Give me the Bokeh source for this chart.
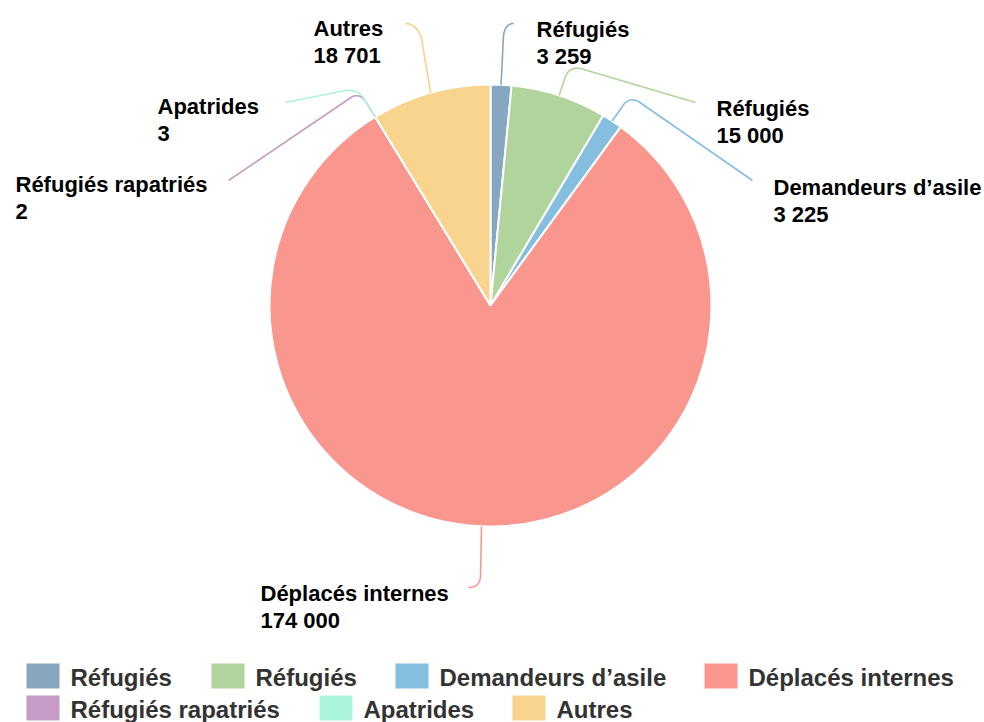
import numpy as np
from bokeh.plotting import figure
from bokeh.models import Range1d, ColumnDataSource
from bokeh.core.properties import value
from bokeh.embed import file_html
from bokeh.resources import INLINE

# ---------------- data ----------------
categories = ["Réfugiés", "Réfugiés", "Demandeurs d’asile", "Déplacés internes",
              "Réfugiés rapatriés", "Apatrides", "Autres"]
values = [3259, 15000, 3225, 174000, 2, 3, 18701]
colors = ["#86a7bf", "#b0d49b", "#86bee0", "#f9978f", "#c69bc5", "#adf5da", "#f8d48e"]

# ---------------- layout (screen px) ----------------
W, H = 984, 722
CX, CY, R = 490, 305, 221
TXT_OFF = 8  # baseline correction of the svg text

# label anchors: (left x, baseline of first line)
label_pos = [(536, 37), (716, 116), (773, 195), (260, 601), (15, 192), (157, 114), (313, 36)]
# connector shapes: (p1, ctrl, p2, end) after leaving the slice edge
connectors = [
    ((503, 35), (505, 23), (513, 23), (513, 23)),
    ((565, 76), (569, 66), (580, 68), (695, 102)),
    ((624, 103), (630, 97), (638, 101), (752, 180)),
    ((480, 576), (479, 587), (468, 587), (468, 587)),
    ((365, 101), (360, 93), (352, 96), (228, 180)),
    ((362, 96), (356, 89), (345, 90), (285, 102)),
    ((421, 38), (416, 23), (405, 23), (405, 23)),
]
legend_rows = [[0, 1, 2, 3], [4, 5, 6]]
legend_x = [[26, 211, 395, 704], [26, 319, 512]]
legend_top = [663, 695]
SW_W, SW_H = 33, 25

LABEL_FONT = value("Liberation Sans")


def Y(sy):
    return H - sy


p = figure(width=W, height=H, x_range=Range1d(0, W), y_range=Range1d(0, H),
           output_backend="svg", toolbar_location=None,
           x_axis_location=None, y_axis_location=None, min_border=0)
p.grid.visible = False
p.outline_line_color = None

# ---------------- pie ----------------
vals = np.array(values, dtype=float)
tot = vals.sum()
c1 = np.cumsum(vals) / tot
c0 = c1 - vals / tot
start = np.pi / 2 - 2 * np.pi * c0
end = np.pi / 2 - 2 * np.pi * c1
src = ColumnDataSource(dict(x=[CX] * len(vals), y=[Y(CY)] * len(vals),
                            start=start, end=end, color=colors, name=categories))
p.wedge(x="x", y="y", radius=R, start_angle="start", end_angle="end", direction="clock",
        fill_color="color", line_color="white", line_width=2, source=src)

# ---------------- connectors ----------------
mid = (start + end) / 2
t = np.linspace(0, 1, 20)
for i in range(len(vals)):
    sx = CX + R * np.cos(mid[i])
    sy = CY - R * np.sin(mid[i])
    p1, c, p2, e = connectors[i]
    bx = (1 - t) ** 2 * p1[0] + 2 * (1 - t) * t * c[0] + t ** 2 * p2[0]
    by = (1 - t) ** 2 * p1[1] + 2 * (1 - t) * t * c[1] + t ** 2 * p2[1]
    xs = [sx] + list(bx) + [e[0]]
    ys = [sy] + list(by) + [e[1]]
    p.line(xs, [Y(v) for v in ys], line_color=colors[i], line_width=1.6)

# ---------------- data labels ----------------
def fmt(v):
    return f"{v:,}".replace(",", " ")

lx = [lp[0] for lp in label_pos]
p.text(x=lx, y=[Y(lp[1] - TXT_OFF) for lp in label_pos], text=categories,
       text_font=LABEL_FONT, text_font_style="bold", text_font_size="22px",
       text_baseline="alphabetic", text_align="left", text_color="#000000")
p.text(x=lx, y=[Y(lp[1] + 27 - TXT_OFF) for lp in label_pos], text=[fmt(v) for v in values],
       text_font=LABEL_FONT, text_font_style="bold", text_font_size="22px",
       text_baseline="alphabetic", text_align="left", text_color="#000000")

# ---------------- legend ----------------
for row, xs_row, top in zip(legend_rows, legend_x, legend_top):
    for idx, x0 in zip(row, xs_row):
        p.quad(left=x0, right=x0 + SW_W, top=Y(top), bottom=Y(top + SW_H),
               fill_color=colors[idx], line_color=None)
        p.text(x=[x0 + SW_W + 11], y=[Y(top + 23 - 9)], text=[categories[idx]],
               text_font=LABEL_FONT, text_font_style="bold", text_font_size="24px",
               text_baseline="alphabetic", text_align="left", text_color="#333333")

open("out.html", "w").write(file_html(p, INLINE))
